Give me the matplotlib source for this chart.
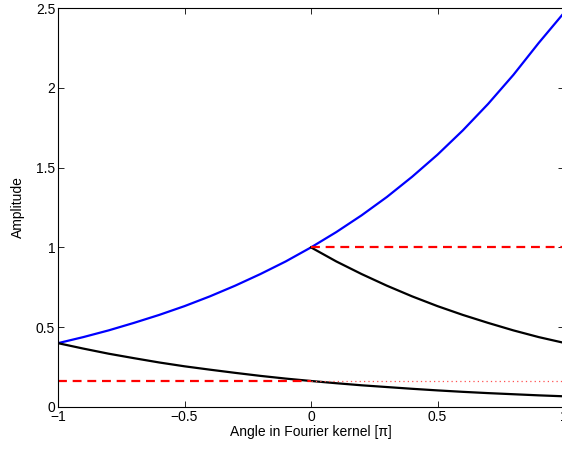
import matplotlib
matplotlib.use("Agg")
import matplotlib.pyplot as plt

# values
x_full = [-1.0, -0.9, -0.8, -0.7, -0.6, -0.5, -0.4, -0.3, -0.2, -0.1, 0.0,
          0.1, 0.2, 0.3, 0.4, 0.5, 0.6, 0.7, 0.8, 0.9, 1.0]
blue_vals = [0.400, 0.438, 0.480, 0.527, 0.577, 0.632, 0.693, 0.760, 0.833, 0.912, 1.000,
             1.096, 1.201, 1.316, 1.443, 1.581, 1.733, 1.899, 2.081, 2.281, 2.470]
lower_vals = [0.400, 0.366, 0.334, 0.306, 0.279, 0.255, 0.234, 0.214, 0.195, 0.178, 0.163,
              0.149, 0.136, 0.125, 0.114, 0.104, 0.095, 0.087, 0.080, 0.073, 0.067]

x_half = [0.0, 0.1, 0.2, 0.3, 0.4, 0.5, 0.6, 0.7, 0.8, 0.9, 1.0]
upper_vals = [1.000, 0.912, 0.833, 0.760, 0.693, 0.632, 0.577, 0.527, 0.480, 0.438, 0.402]

ref_high = 1.0
ref_low = 0.163

xticks = [-1, -0.5, 0, 0.5, 1]
xticklabels = ["\u22121", "\u22120.5", "0", "0.5", "1"]
yticks = [0, 0.5, 1, 1.5, 2, 2.5]
yticklabels = ["0", "0.5", "1", "1.5", "2", "2.5"]

plt.rcParams["font.family"] = ["Liberation Sans", "DejaVu Sans"]
plt.rcParams["font.size"] = 10

fig = plt.figure(figsize=(5.62, 4.53), dpi=100)
ax = fig.add_axes([58 / 562, 46 / 453, 506 / 562, 399 / 453])

ax.plot(x_full, blue_vals, color="#0000ff", lw=1.6)
ax.plot(x_full, lower_vals, color="black", lw=1.6)
ax.plot(x_half, upper_vals, color="black", lw=1.6)

ax.plot([0, 1], [ref_high, ref_high], color="#ff0000", lw=1.6, ls=(0, (4, 2.6)))
ax.plot([-1, 0], [ref_low, ref_low], color="#ff0000", lw=1.6, ls=(0, (4, 2.6)))
ax.plot([0, 1], [ref_low, ref_low], color="#ff5050", lw=0.9, ls=(0, (1, 2.5)))

ax.set_xlim(-1, 1)
ax.set_ylim(0, 2.5)
ax.set_xticks(xticks)
ax.set_xticklabels(xticklabels)
ax.set_yticks(yticks)
ax.set_yticklabels(yticklabels)
ax.tick_params(direction="in", top=True, right=True, length=4, width=0.6, pad=2)
for s in ax.spines.values():
    s.set_linewidth(0.8)

ax.set_xlabel("Angle in Fourier kernel [\u03c0]", labelpad=1)
ax.set_ylabel("Amplitude", labelpad=8)

fig.savefig("out.png", dpi=100)
